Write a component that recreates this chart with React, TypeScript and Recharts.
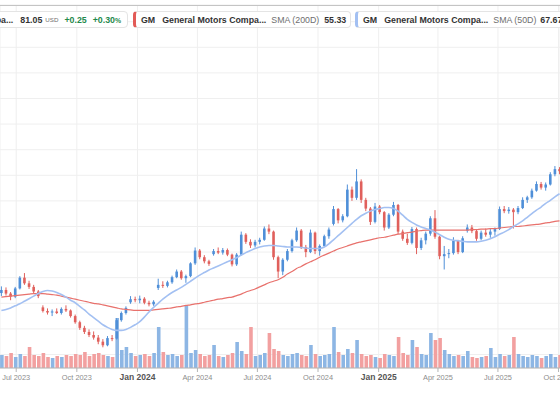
import React from "react";
import {
  ComposedChart,
  Bar,
  Line,
  Cell,
  XAxis,
  YAxis,
  CartesianGrid,
} from "recharts";

// weekly candles, first week starts Mon 2023-06-05
const START = "2023-06-05";

const opens = [
  37.0, 37.6, 36.9, 36.3, 37.9, 40.0, 38.9, 38.2, 37.3, 34.2,
  33.5, 33.2, 33.4, 33.1, 33.9, 33.6, 32.5, 31.3, 30.2, 29.4,
  28.8, 28.3, 27.5, 26.8, 28.2, 28.1, 31.7, 33.1, 35.2, 35.8,
  35.6, 35.9, 35.1, 34.8, 38.0, 38.6, 38.4, 39.1, 40.1, 41.2,
  39.9, 40.3, 42.8, 45.3, 44.0, 43.2, 44.6, 45.2, 44.9, 45.4,
  44.5, 42.6, 44.5, 48.4, 47.0, 46.3, 47.0, 47.4, 49.6, 49.0,
  44.0, 41.2, 43.5, 45.2, 47.3, 49.2, 46.0, 45.0, 48.8, 45.2,
  46.2, 48.1, 50.5, 53.4, 51.2, 52.0, 57.2, 55.6, 58.8, 55.2,
  53.5, 50.9, 53.9, 52.8, 49.8, 52.3, 54.2, 49.0, 47.6, 46.8,
  49.5, 45.8, 47.3, 48.6, 51.6, 48.0, 44.2, 44.6, 44.8, 47.2,
  45.0, 49.2, 49.8, 49.1, 47.6, 48.8, 48.4, 49.0, 49.5, 53.4,
  53.0, 53.3, 52.8, 53.6, 55.2, 55.7, 57.0, 58.3, 57.6, 58.2,
  60.2, 61.2,
];
const highs = [
  38.3, 38.1, 37.2, 38.2, 40.3, 40.9, 39.4, 38.6, 37.6, 34.6,
  34.0, 33.8, 34.0, 34.2, 34.6, 33.8, 32.8, 31.6, 30.6, 29.9,
  29.5, 28.8, 28.0, 28.6, 28.8, 32.1, 33.4, 34.4, 36.4, 36.3,
  36.5, 36.2, 35.5, 35.6, 39.8, 39.3, 39.4, 40.4, 41.6, 41.5,
  40.6, 43.0, 45.9, 45.6, 44.4, 43.5, 45.6, 45.9, 45.8, 45.7,
  44.7, 44.8, 49.0, 48.7, 47.5, 47.4, 47.8, 50.0, 50.4, 49.2,
  44.3, 43.8, 45.6, 47.6, 49.8, 49.5, 46.4, 49.4, 49.0, 46.5,
  48.4, 49.8, 54.0, 53.6, 52.4, 58.2, 57.8, 61.2, 59.2, 55.6,
  53.8, 54.6, 54.2, 53.0, 52.6, 54.8, 54.4, 49.4, 48.6, 49.9,
  49.8, 47.8, 49.0, 52.0, 53.2, 48.2, 46.2, 45.6, 47.9, 47.4,
  48.1, 50.4, 50.3, 49.4, 49.2, 49.6, 49.5, 49.8, 53.9, 54.0,
  53.8, 53.6, 54.0, 55.7, 56.0, 57.4, 58.8, 58.7, 58.6, 60.6,
  61.8, 61.6,
];
const lows = [
  36.4, 36.5, 35.6, 36.0, 37.7, 38.6, 37.8, 36.9, 36.0, 33.2,
  32.8, 32.5, 32.9, 32.8, 33.3, 32.2, 31.0, 29.8, 29.0, 28.4,
  27.9, 27.0, 26.4, 26.6, 27.6, 27.9, 31.4, 32.8, 34.9, 35.2,
  35.0, 34.8, 34.4, 34.5, 37.6, 38.0, 38.1, 38.8, 39.9, 39.6,
  39.0, 40.1, 42.5, 43.6, 42.8, 42.3, 44.3, 44.6, 44.5, 44.2,
  42.2, 42.3, 44.3, 46.6, 45.8, 45.9, 46.5, 47.2, 48.5, 43.5,
  39.9, 40.5, 43.2, 44.9, 47.0, 45.6, 44.0, 44.8, 44.6, 44.3,
  46.0, 47.6, 50.2, 50.6, 50.8, 51.8, 55.0, 55.2, 54.6, 53.0,
  50.3, 50.6, 52.4, 49.2, 49.5, 52.0, 48.5, 47.2, 46.4, 46.5,
  44.6, 45.4, 46.5, 48.2, 47.6, 43.6, 41.6, 43.8, 44.5, 44.6,
  44.8, 48.8, 48.7, 47.2, 47.3, 48.0, 47.8, 48.2, 49.3, 52.6,
  52.5, 49.6, 52.4, 53.4, 54.6, 55.4, 56.8, 57.2, 57.0, 58.0,
  59.8, 60.2,
];
const closes = [
  37.6, 36.9, 36.3, 37.9, 40.0, 38.9, 38.2, 37.3, 36.4, 33.5,
  33.2, 33.4, 33.1, 33.9, 33.6, 32.5, 31.3, 30.2, 29.4, 28.8,
  28.3, 27.5, 26.8, 28.2, 28.0, 31.7, 33.1, 34.1, 35.8, 35.6,
  35.9, 35.1, 34.8, 35.3, 38.6, 38.4, 39.1, 40.1, 41.2, 39.9,
  40.3, 42.8, 45.3, 44.0, 43.2, 42.7, 45.2, 44.9, 45.4, 44.5,
  42.6, 44.5, 48.4, 47.0, 46.3, 47.0, 47.4, 49.6, 49.0, 44.0,
  41.2, 43.5, 45.2, 47.3, 49.2, 46.0, 45.0, 48.8, 45.2, 46.2,
  48.1, 49.4, 53.4, 51.2, 52.0, 57.2, 55.6, 58.8, 55.2, 53.5,
  50.9, 53.9, 52.8, 49.8, 52.3, 54.2, 49.0, 47.6, 46.8, 49.5,
  45.8, 47.3, 48.6, 51.6, 48.0, 44.2, 44.6, 44.8, 47.2, 45.0,
  47.7, 49.8, 49.1, 47.6, 48.8, 48.4, 49.0, 49.5, 53.4, 53.0,
  53.3, 52.8, 53.6, 55.2, 55.7, 57.0, 58.3, 57.6, 58.2, 60.2,
  61.2, 60.8,
];
// millions of shares
const volumes = [
  13, 12, 15, 11, 14, 12, 21, 13, 12, 15,
  11, 10, 12, 11, 13, 12, 14, 13, 16, 12,
  14, 15, 13, 12, 11, 50, 18, 21, 15, 12,
  13, 14, 12, 15, 41, 16, 13, 14, 12, 13,
  63, 15, 18, 14, 12, 13, 23, 12, 11, 13,
  15, 26, 17, 14, 41, 12, 13, 15, 35, 19,
  17, 13, 12, 14, 15, 13, 12, 23, 14, 12,
  13, 14, 41, 16, 13, 19, 15, 28, 14, 12,
  13, 11, 10, 14, 13, 12, 31, 15, 13, 28,
  21, 14, 13, 35, 28, 30, 18, 14, 12, 13,
  12, 17, 11, 10, 11, 12, 20, 11, 14, 12,
  13, 31, 14, 12, 11, 13, 12, 10, 12, 14,
  11, 13,
];
const sma200 = [
  36.2, 36.3, 36.4, 36.5, 36.6, 36.7, 36.8, 36.9, 36.9, 36.9,
  36.8, 36.7, 36.6, 36.4, 36.2, 36.0, 35.8, 35.6, 35.4, 35.2,
  35.0, 34.9, 34.7, 34.5, 34.3, 34.1, 33.9, 33.8, 33.7, 33.6,
  33.6, 33.6, 33.6, 33.7, 33.8, 33.9, 34.0, 34.1, 34.3, 34.4,
  34.6, 34.7, 34.9, 35.0, 35.2, 35.4, 35.6, 35.8, 35.9, 36.1,
  36.2, 36.5, 36.8, 37.2, 37.5, 37.8, 38.2, 38.6, 39.0, 39.3,
  39.6, 40.1, 40.7, 41.2, 41.8, 42.2, 42.7, 43.1, 43.5, 44.0,
  44.4, 44.8, 45.2, 45.6, 45.9, 46.2, 46.5, 46.8, 47.0, 47.2,
  47.4, 47.6, 47.8, 47.9, 48.1, 48.3, 48.5, 48.6, 48.8, 48.9,
  49.1, 49.2, 49.3, 49.3, 49.3, 49.3, 49.3, 49.3, 49.3, 49.3,
  49.3, 49.3, 49.4, 49.4, 49.5, 49.5, 49.6, 49.6, 49.7, 49.8,
  49.9, 50.0, 50.0, 50.1, 50.2, 50.3, 50.4, 50.5, 50.7, 50.8,
  51.0, 51.1,
];
const sma50 = [
  33.6, 33.8, 34.1, 34.5, 34.9, 35.4, 35.9, 36.4, 36.9, 37.3,
  37.5, 37.4, 37.1, 36.7, 36.2, 35.6, 35.1, 34.4, 33.7, 32.9,
  32.2, 31.5, 30.8, 30.3, 29.9, 29.7, 29.7, 29.9, 30.3, 30.8,
  31.4, 32.3, 33.3, 34.2, 35.0, 35.8, 36.5, 37.1, 37.6, 38.1,
  38.7, 39.3, 39.9, 40.5, 41.0, 41.5, 41.9, 42.3, 42.7, 43.1,
  43.5, 43.9, 44.4, 44.9, 45.3, 45.7, 46.0, 46.2, 46.3, 46.3,
  46.2, 46.1, 46.0, 46.0, 46.0, 45.9, 45.8, 45.7, 45.7, 45.7,
  46.0, 46.6, 47.4, 48.2, 49.0, 49.8, 50.6, 51.4, 52.1, 52.6,
  53.0, 53.3, 53.5, 53.7, 53.7, 53.5, 53.0, 52.2, 51.4, 50.8,
  50.3, 49.9, 49.6, 49.3, 48.9, 48.4, 47.9, 47.5, 47.3, 47.2,
  47.1, 47.0, 47.0, 47.0, 47.1, 47.3, 47.6, 48.0, 48.5, 48.9,
  49.4, 50.0, 50.5, 51.1, 51.8, 52.5, 53.2, 53.8, 54.5, 55.1,
  55.8, 56.4,
];

const tickDates = [
  "2023-07-01", "2023-10-01", "2024-01-01", "2024-04-01", "2024-07-01",
  "2024-10-01", "2025-01-01", "2025-04-01", "2025-07-01", "2025-10-01",
];
const tickLabels = [
  "Jul 2023", "Oct 2023", "Jan 2024", "Apr 2024", "Jul 2024",
  "Oct 2024", "Jan 2025", "Apr 2025", "Jul 2025", "Oct 2025",
];
const priceTicks = [25, 30, 35, 40, 45, 50, 55, 60, 65, 70, 75, 80, 85, 90];

const UP = "#4f8fd8";
const DOWN = "#e0605c";
const VOL_UP = "#8db6e4";
const VOL_DOWN = "#f2a0a0";
const FONT = "'Liberation Sans', Arial, Helvetica, sans-serif";

const WEEK_MS = 7 * 24 * 3600 * 1000;
const weekPos = (d: string) =>
  (Date.parse(d + "T00:00:00Z") - Date.parse(START + "T00:00:00Z")) / WEEK_MS;
const tickValues = tickDates.map(weekPos);

const data = opens.map((o, i) => ({
  t: i + 0.5,
  open: o,
  high: highs[i],
  low: lows[i],
  close: closes[i],
  vol: volumes[i],
  sma200: sma200[i],
  sma50: sma50[i],
}));

const X_DOMAIN: [number, number] = [0.2, 121.6];

const Candle = (props: any) => {
  const { x, y, width, height, payload } = props;
  if (!payload || x == null) return null;
  const { open, close, high, low } = payload;
  const color = close >= open ? UP : DOWN;
  const h = Math.abs(height);
  const top = height < 0 ? y + height : y;
  const k = high > low ? h / (high - low) : 0;
  const yo = top + (high - open) * k;
  const yc = top + (high - close) * k;
  const cx = x + width / 2;
  return (
    <g>
      <line x1={cx} x2={cx} y1={top} y2={top + h} stroke={color} strokeWidth={1} />
      <rect
        x={x}
        y={Math.min(yo, yc)}
        width={width}
        height={Math.max(1, Math.abs(yo - yc))}
        fill={color}
      />
    </g>
  );
};

const DateTick = (props: any) => {
  const { x, y, payload } = props;
  const i = tickValues.indexOf(payload.value);
  const label = tickLabels[i] ?? "";
  const bold = label.startsWith("Jan");
  return (
    <text
      x={x}
      y={y + 6}
      textAnchor="middle"
      fontFamily={FONT}
      fontSize={bold ? 8.5 : 7.4}
      fontWeight={bold ? 700 : 400}
      fill={bold ? "#555" : "#8c8c8c"}
    >
      {label}
    </text>
  );
};

const box: React.CSSProperties = {
  position: "absolute",
  top: 11,
  height: 17,
  boxSizing: "border-box",
  border: "1px solid #e4e4e4",
  borderRadius: 4,
  background: "#fff",
  display: "flex",
  alignItems: "center",
  whiteSpace: "nowrap",
  overflow: "hidden",
  fontFamily: FONT,
  fontSize: 8.8,
  color: "#333",
};
const b: React.CSSProperties = { fontWeight: 700 };
const muted: React.CSSProperties = { color: "#6e6e6e" };
const green: React.CSSProperties = { color: "#1f8a4c", fontWeight: 700 };

export default function App() {
  return (
    <div
      style={{
        position: "fixed",
        left: 0,
        top: 0,
        width: 560,
        height: 416,
        background: "#fff",
        overflow: "hidden",
      }}
    >
      <ComposedChart
        width={560}
        height={416}
        data={data}
        margin={{ top: 5, right: 0, bottom: 0, left: 0 }}
      >
        <CartesianGrid stroke="#efefef" strokeWidth={1} />
        <XAxis
          type="number"
          dataKey="t"
          domain={X_DOMAIN}
          allowDataOverflow
          ticks={tickValues}
          interval={0}
          tick={<DateTick />}
          height={48}
          axisLine={{ stroke: "#b5b5b5" }}
          tickLine={{ stroke: "#b5b5b5" }}
          tickSize={4}
        />
        <XAxis
          xAxisId="v"
          type="number"
          dataKey="t"
          domain={X_DOMAIN}
          allowDataOverflow
          hide
        />
        <YAxis
          orientation="right"
          domain={[22.36, 93.26]}
          ticks={priceTicks}
          allowDataOverflow
          hide
        />
        <YAxis yAxisId="v" domain={[0, 363]} allowDataOverflow hide />
        <Bar
          xAxisId="v"
          yAxisId="v"
          dataKey="vol"
          barSize={3.6}
          isAnimationActive={false}
        >
          {data.map((d, i) => (
            <Cell key={i} fill={d.close >= d.open ? VOL_UP : VOL_DOWN} />
          ))}
        </Bar>
        <Bar
          dataKey={(d: any) => [d.low, d.high]}
          barSize={2.6}
          shape={<Candle />}
          isAnimationActive={false}
        />
        <Line
          dataKey="sma200"
          type="monotone"
          stroke="#e8716c"
          strokeWidth={1.2}
          dot={false}
          activeDot={false}
          isAnimationActive={false}
        />
        <Line
          dataKey="sma50"
          type="monotone"
          stroke="#a3c0f2"
          strokeWidth={1.6}
          dot={false}
          activeDot={false}
          isAnimationActive={false}
        />
      </ComposedChart>

      <div
        style={{
          position: "absolute",
          top: 5,
          left: 0,
          width: 560,
          borderTop: "1px solid #c4c4c4",
        }}
      />

      <div
        style={{
          ...box,
          left: -200,
          width: 328,
          justifyContent: "flex-end",
          paddingRight: 6,
        }}
      >
        <span style={{ ...b, marginRight: 7 }}>GM</span>
        <span style={{ ...b, marginRight: 7 }}>General Motors Compa...</span>
        <span style={{ ...b, marginRight: 3 }}>81.05</span>
        <span style={{ ...muted, fontSize: 6.2, marginRight: 6 }}>USD</span>
        <span style={{ ...green, marginRight: 6 }}>+0.25</span>
        <span style={green}>
          +0.30<span style={{ fontSize: 6.8 }}>%</span>
        </span>
      </div>

      <div
        style={{
          ...box,
          left: 133,
          width: 218,
          borderLeft: "3px solid #e25b57",
          paddingLeft: 5,
        }}
      >
        <span style={{ ...b, marginRight: 7 }}>GM</span>
        <span style={{ ...b, marginRight: 5 }}>General Motors Compa...</span>
        <span style={{ ...muted, marginRight: 5 }}>SMA (200D)</span>
        <span style={b}>55.33</span>
      </div>

      <div
        style={{
          ...box,
          left: 355,
          width: 230,
          borderLeft: "3px solid #a3c0f2",
          paddingLeft: 5,
        }}
      >
        <span style={{ ...b, marginRight: 7 }}>GM</span>
        <span style={{ ...b, marginRight: 5 }}>General Motors Compa...</span>
        <span style={{ ...muted, marginRight: 4 }}>SMA (50D)</span>
        <span style={b}>67.67</span>
      </div>
    </div>
  );
}
